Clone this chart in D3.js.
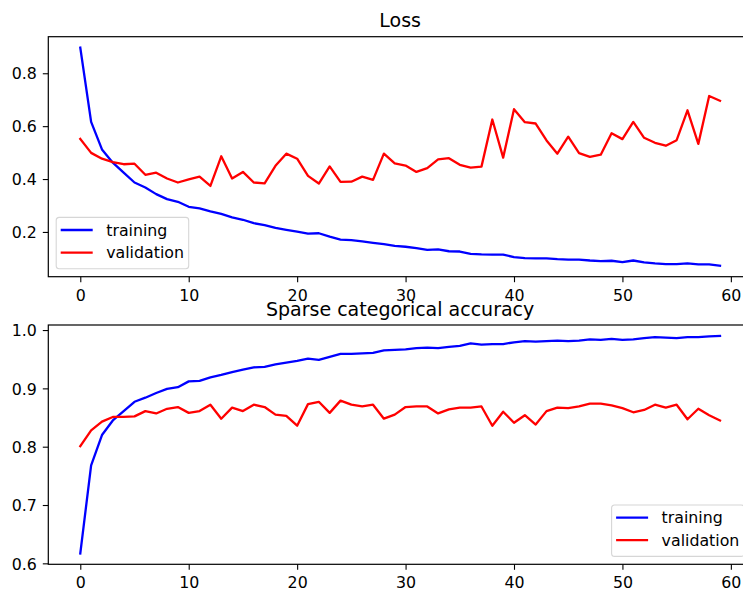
<!DOCTYPE html>
<html>
<head>
<meta charset="utf-8">
<script src="https://cdn.jsdelivr.net/npm/d3@7"></script>
<style>
  body { margin: 0; background: #fff; }
  svg { display: block; font-family: "DejaVu Sans", sans-serif; }
  .tick text { font-size: 15.8px; fill: #000; }
  .title { font-size: 19px; fill: #000; }
  .legend-text { font-size: 15.8px; fill: #000; }
</style>
</head>
<body>
<div id="chart"></div>
<script>
const xTicks = [0, 10, 20, 30, 40, 50, 60];
const lossTicks = [0.2, 0.4, 0.6, 0.8];
const accTicks = [0.6, 0.7, 0.8, 0.9, 1.0];
const seriesNames = ["training", "validation"];
const seriesColors = ["#0000ff", "#ff0000"];

const lossTrain = [
  0.897, 0.616, 0.512, 0.462, 0.424, 0.387, 0.368, 0.343, 0.324, 0.314,
  0.295, 0.289, 0.278, 0.268, 0.255, 0.246, 0.233, 0.226, 0.215, 0.208,
  0.201, 0.194, 0.195, 0.182, 0.171, 0.169, 0.164, 0.159, 0.154, 0.147,
  0.144, 0.139, 0.132, 0.134, 0.127, 0.126, 0.117, 0.115, 0.114, 0.114,
  0.105, 0.101, 0.100, 0.100, 0.097, 0.095, 0.095, 0.092, 0.090, 0.091,
  0.086, 0.092, 0.085, 0.081, 0.078, 0.078, 0.081, 0.077, 0.077, 0.072
];
const lossVal = [
  0.552, 0.499, 0.477, 0.464, 0.456, 0.458, 0.416, 0.424, 0.402, 0.387,
  0.399, 0.409, 0.374, 0.486, 0.402, 0.427, 0.387, 0.384, 0.450, 0.496,
  0.477, 0.412, 0.383, 0.448, 0.389, 0.390, 0.409, 0.397, 0.496, 0.459,
  0.451, 0.427, 0.441, 0.474, 0.479, 0.454, 0.443, 0.447, 0.625, 0.481,
  0.664, 0.615, 0.610, 0.546, 0.496, 0.560, 0.498, 0.484, 0.492, 0.573,
  0.551, 0.616, 0.556, 0.537, 0.526, 0.547, 0.660, 0.533, 0.714, 0.696
];
const accTrain = [
  0.617, 0.768, 0.820, 0.845, 0.861, 0.877, 0.884, 0.892, 0.899, 0.902,
  0.912, 0.913, 0.919, 0.923, 0.928, 0.932, 0.936, 0.937, 0.941, 0.944,
  0.947, 0.951, 0.949, 0.954, 0.959, 0.959, 0.960, 0.961, 0.965, 0.966,
  0.967, 0.969, 0.970, 0.969, 0.971, 0.973, 0.977, 0.975, 0.976, 0.976,
  0.979, 0.981, 0.980, 0.981, 0.982, 0.981, 0.982, 0.984, 0.983, 0.985,
  0.983, 0.984, 0.986, 0.988, 0.987, 0.986, 0.988, 0.988, 0.989, 0.990
];
const accVal = [
  0.801, 0.828, 0.843, 0.851, 0.851, 0.852, 0.861, 0.857, 0.865, 0.868,
  0.858, 0.861, 0.872, 0.848, 0.867, 0.861, 0.872, 0.868, 0.855, 0.853,
  0.836, 0.873, 0.877, 0.858, 0.879, 0.872, 0.869, 0.872, 0.848, 0.855,
  0.868, 0.869, 0.869, 0.857, 0.864, 0.867, 0.867, 0.869, 0.836, 0.860,
  0.841, 0.854, 0.838, 0.861, 0.867, 0.866, 0.869, 0.874, 0.874, 0.871,
  0.866, 0.859, 0.863, 0.872, 0.867, 0.872, 0.847, 0.865, 0.854, 0.845
];

const width = 743, height = 590;
const left = 48.3, right = 752;
const tickLen = 5.5;

const svg = d3.select("#chart").append("svg")
  .attr("width", width)
  .attr("height", height);

// matplotlib style 5% margins
function padded(extent) {
  const m = (extent[1] - extent[0]) * 0.05;
  return [extent[0] - m, extent[1] + m];
}

function drawPanel(opts) {
  const { top, bottom, title, train, val, yTicks, yFormat, legendPos } = opts;
  const n = train.length;

  const x = d3.scaleLinear()
    .domain(padded([0, n - 1]))
    .range([left, right]);

  const y = d3.scaleLinear()
    .domain(padded(d3.extent(train.concat(val))))
    .range([bottom, top]);

  const g = svg.append("g");

  const line = d3.line()
    .x((d, i) => x(i))
    .y(d => y(d));

  [train, val].forEach((series, k) => {
    g.append("path")
      .datum(series)
      .attr("d", line)
      .attr("fill", "none")
      .attr("stroke", seriesColors[k])
      .attr("stroke-width", 2.3)
      .attr("stroke-linejoin", "round")
      .attr("stroke-linecap", "square");
  });

  // axes
  const xAxis = g.append("g")
    .attr("transform", `translate(0,${bottom})`)
    .call(d3.axisBottom(x).tickValues(xTicks).tickSize(tickLen).tickPadding(7.3).tickSizeOuter(0));
  const yAxis = g.append("g")
    .attr("transform", `translate(${left},0)`)
    .call(d3.axisLeft(y).tickValues(yTicks).tickFormat(d3.format(yFormat)).tickSize(tickLen).tickPadding(6).tickSizeOuter(0));

  [xAxis, yAxis].forEach(a => {
    a.select(".domain").remove();
    a.selectAll(".tick line").attr("stroke", "#000").attr("stroke-width", 1.1);
    a.attr("font-family", null).attr("font-size", null);
  });
  yAxis.selectAll(".tick text").attr("dy", "0.36em");

  g.append("rect")
    .attr("x", left)
    .attr("y", top)
    .attr("width", right - left)
    .attr("height", bottom - top)
    .attr("fill", "none")
    .attr("stroke", "#000")
    .attr("stroke-width", 1.2);

  g.append("text")
    .attr("class", "title")
    .attr("x", (left + right) / 2)
    .attr("y", top - 9.5)
    .attr("text-anchor", "middle")
    .text(title);

  // legend
  const boxW = 132.5, boxH = 51.4, pad = 7.9;
  const bx = legendPos === "lower left" ? left + pad : right - pad - boxW;
  const by = bottom - pad - boxH;
  const legend = g.append("g").attr("transform", `translate(${bx},${by})`);

  legend.append("rect")
    .attr("width", boxW)
    .attr("height", boxH)
    .attr("rx", 3)
    .attr("fill", "#fff")
    .attr("fill-opacity", 0.8)
    .attr("stroke", "#d6d6d6")
    .attr("stroke-width", 1.1);

  seriesNames.forEach((name, k) => {
    const ry = 12.6 + k * 22.6;
    legend.append("line")
      .attr("x1", 4.5)
      .attr("x2", 36.5)
      .attr("y1", ry)
      .attr("y2", ry)
      .attr("stroke", seriesColors[k])
      .attr("stroke-width", 2.3);
    legend.append("text")
      .attr("class", "legend-text")
      .attr("x", 50)
      .attr("y", ry)
      .attr("dy", "0.36em")
      .text(name);
  });
}

drawPanel({
  top: 36.7, bottom: 276.7, title: "Loss",
  train: lossTrain, val: lossVal,
  yTicks: lossTicks, yFormat: ".1f", legendPos: "lower left"
});

drawPanel({
  top: 325, bottom: 564.3, title: "Sparse categorical accuracy",
  train: accTrain, val: accVal,
  yTicks: accTicks, yFormat: ".1f", legendPos: "lower right"
});
</script>
</body>
</html>
